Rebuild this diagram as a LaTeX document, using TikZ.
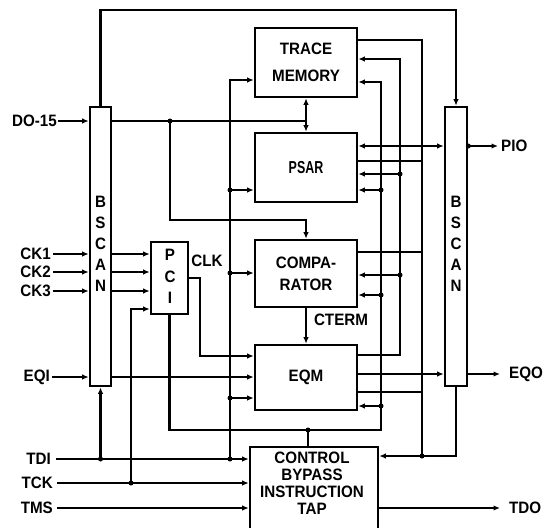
\documentclass[tikz,border=0pt]{standalone}
\usepackage{fontspec}
\setmainfont{Liberation Sans}[FakeStretch=0.92]
\usetikzlibrary{arrows.meta,calc}
\begin{document}
\begin{tikzpicture}[x=1pt,y=-1pt,
  wire/.style={line width=2.2pt},
  arr/.style={wire,-{Latex[length=6.5pt,width=5.5pt]}},
  darr/.style={wire,{Latex[length=6.5pt,width=5.5pt]}-{Latex[length=6.5pt,width=5.5pt]}},
  blk/.style={draw,line width=2.6pt,inner sep=0pt,align=center,font=\bfseries\fontsize{16.5}{17}\selectfont},
  lbl/.style={inner sep=0pt,align=center,font=\bfseries\fontsize{16.5}{17}\selectfont},
  dot/.style={circle,fill,inner sep=0pt,minimum size=5pt}]
\useasboundingbox (0,0) rectangle (545,527);
% blocks
\node[blk,minimum width=21pt,minimum height=279pt] (lb) at (100.5,246.5) {};
\node[lbl,font=\bfseries\fontsize{16.5}{21}\selectfont] (lbt) at (100.5,244) {B\\S\\C\\A\\N};
\node[blk,minimum width=22pt,minimum height=279pt] (rb) at (456,246.5) {};
\node[lbl,font=\bfseries\fontsize{16.5}{21}\selectfont] (rbt) at (456,244) {B\\S\\C\\A\\N};
\node[blk,minimum width=102pt,minimum height=69pt,font=\bfseries\fontsize{16.5}{27}\selectfont] (tm) at (306,62.5) {TRACE\\MEMORY};
\node[blk,minimum width=102pt,minimum height=69pt] (psar) at (306,167.5) {\scalebox{0.82}[1.05]{PSAR}};
\node[blk,minimum width=102pt,minimum height=67pt,font=\bfseries\fontsize{16.5}{22}\selectfont] (comp) at (306,273.5) {COMPA-\\RATOR};
\node[blk,minimum width=102pt,minimum height=65pt] (eqm) at (306,377.5) {EQM};
\node[blk,minimum width=128pt,minimum height=90pt] (ctrl) at (314,492) {};
\node[lbl] (ctrlt) at (312,483.5) {CONTROL\\BYPASS\\INSTRUCTION\\TAP};
\node[blk,minimum width=37pt,minimum height=72pt] (pci) at (169.5,278) {};
\node[lbl,font=\bfseries\fontsize{16.5}{21.5}\selectfont] (pcit) at (170,276.5) {P\\C\\I};
% labels
\node[lbl,anchor=east,inner xsep=1pt] (do) at (58,121) {DO-15};
\node[lbl,anchor=east,inner xsep=2pt] (ck1) at (53,254) {CK1};
\node[lbl,anchor=east,inner xsep=2pt] (ck2) at (53,272) {CK2};
\node[lbl,anchor=east,inner xsep=2pt] (ck3) at (53,291) {CK3};
\node[lbl,anchor=east,inner xsep=2pt] (eqi) at (52,377) {EQI};
\node[lbl,anchor=east,inner xsep=5pt] (tdi) at (56,459) {TDI};
\node[lbl,anchor=east,inner xsep=4pt] (tck) at (57,483) {TCK};
\node[lbl,anchor=east,inner xsep=4pt] (tms) at (57,508) {TMS};
\node[lbl,anchor=west,inner xsep=3pt] (pio) at (498,146) {PIO};
\node[lbl,anchor=west,inner xsep=9pt] (eqo) at (500,374) {EQO};
\node[lbl,anchor=west,inner xsep=9pt] (tdo) at (500,508) {TDO};
\node[lbl] (clk) at (207,261) {CLK};
\node[lbl] (cterm) at (341,320) {CTERM};
% scan chain top loop
\draw[arr] (lb.north) -- (lb.north |- 0,10) -- (rb.north |- 0,10) -- (rb.north);
% data bus
\draw[arr] (do.east) -- (lb.west |- do.east);
\draw[wire] (lb.east |- 0,121) -- (tm.south |- 0,121);
\draw[darr] (tm.south) -- (psar.north);
\draw[arr] (170,121) -- (170,220) -- (comp.north |- 0,220) -- (comp.north);
\node[dot] (j1) at (170,121) {};
% clocks
\foreach \n in {ck1,ck2,ck3} {
  \draw[arr] (\n.east) -- (lb.west |- \n.east);
  \draw[arr] (lb.east |- \n.east) -- (pci.west |- \n.east);
}
\draw[arr] (131,483) -- (131,309) -- (pci.west |- 0,309);
\node[dot] (j2) at (131,483) {};
% EQI
\draw[arr] (eqi.east) -- (lb.west |- eqi.east);
\draw[arr] (lb.east |- eqi.east) -- (eqm.west |- eqi.east);
% TAP inputs
\draw[arr] (tdi.east) -- (ctrl.west |- tdi.east);
\draw[arr] (tck.east) -- (ctrl.west |- tck.east);
\draw[arr] (tms.east) -- (ctrl.west |- tms.east);
\draw[arr] (lb.south |- tdi.east) -- (lb.south);
\node[dot] (j3) at (lb.south |- tdi.east) {};
% bus x=230
\draw[arr] (230,459) -- (230,80) -- (tm.west |- 0,80);
\draw[arr] (230,190) -- (psar.west |- 0,190);
\draw[arr] (230,273) -- (comp.west |- 0,273);
\draw[arr] (230,398) -- (eqm.west |- 0,398);
\node[dot] (j4) at (230,190) {};
\node[dot] (j5) at (230,273) {};
\node[dot] (j6) at (230,398) {};
\node[dot] (j7) at (230,459) {};
% CLK
\draw[arr] (pci.east |- 0,278) -- (200,278) -- (200,356) -- (eqm.west |- 0,356);
% control bus
\draw[arr] (pci.south) -- (pci.south |- 0,430) -- (381,430) -- (381,82) -- (tm.east |- 0,82);
\draw[wire] (ctrl.north -| 308,0) -- (308,430);
\node[dot] (j8) at (308,430) {};
\draw[arr] (381,190) -- (psar.east |- 0,190);
\draw[arr] (381,295) -- (comp.east |- 0,295);
\draw[arr] (381,406) -- (eqm.east |- 0,406);
\node[dot] (j9) at (381,190) {};
\node[dot] (j10) at (381,295) {};
\node[dot] (j11) at (381,406) {};
% EQM bus x=400
\draw[arr] (eqm.east |- 0,355) -- (400,355) -- (400,59) -- (tm.east |- 0,59);
\draw[arr] (400,174) -- (psar.east |- 0,174);
\draw[arr] (400,275) -- (comp.east |- 0,275);
\node[dot] (j12) at (400,174) {};
\node[dot] (j13) at (400,275) {};
% output bus x=422
\draw[wire] (tm.east |- 0,40) -- (422,40) -- (422,456);
\draw[wire] (psar.east |- 0,161) -- (422,161);
\draw[wire] (comp.east |- 0,252) -- (422,252);
\draw[wire] (eqm.east |- 0,392) -- (422,392);
\draw[arr] (rb.south) -- (rb.south |- 0,456) -- (ctrl.east |- 0,456);
\node[dot] (j14) at (422,456) {};
% right side
\draw[darr] (psar.east |- 0,146) -- (rb.west |- 0,146);
\draw[arr] (rb.east |- 0,146) -- (pio.west);
\node[dot] (j15) at (rb.east |- 0,146) {};
\draw[arr] (eqm.east |- 0,374) -- (rb.west |- 0,374);
\draw[arr] (rb.east |- 0,374) -- (eqo.west);
\draw[arr] (ctrl.east |- 0,508) -- (tdo.west);
% CTERM
\draw[arr] (comp.south) -- (eqm.north);
\end{tikzpicture}
\end{document}
